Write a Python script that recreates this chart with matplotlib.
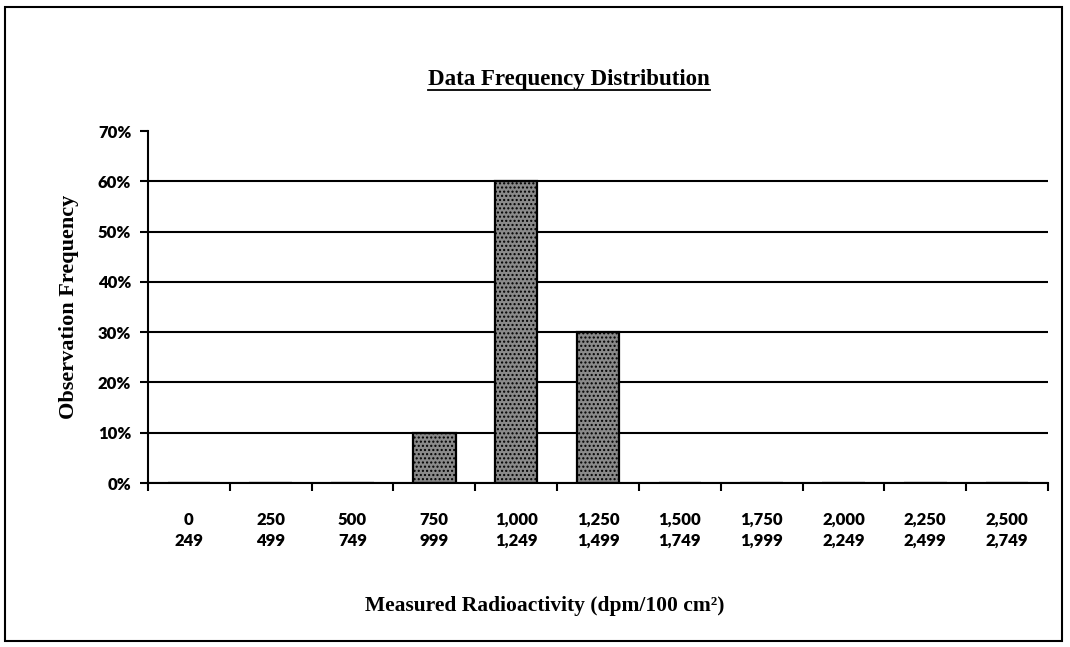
import numpy as np
import matplotlib.pyplot as plt
from matplotlib.patches import Rectangle
from matplotlib.lines import Line2D

# bin edges (lower / upper) and observed frequency in percent
bin_low = ['0', '250', '500', '750', '1,000', '1,250', '1,500', '1,750', '2,000', '2,250', '2,500']
bin_high = ['249', '499', '749', '999', '1,249', '1,499', '1,749', '1,999', '2,249', '2,499', '2,749']
freq = [0, 0, 0, 10, 60, 30, 0, 0, 0, 0, 0]

serif = 'Liberation Serif'
tickfont = 'Lato'

fig = plt.figure(figsize=(10.7, 6.47), dpi=100)
ax = fig.add_axes([148 / 1070, 1 - 483 / 647, 900 / 1070, 352 / 647])

x = np.arange(len(freq))
ax.bar(x, freq, width=0.52, color='#8a8a8a', edgecolor='black', linewidth=1.6,
       hatch='....', zorder=3)

ax.set_xlim(-0.5, len(freq) - 0.5)
ax.set_ylim(0, 70)
ax.set_yticks(range(0, 71, 10))
ax.set_yticklabels([f'{v}%' for v in range(0, 71, 10)], fontfamily=tickfont,
                   fontweight='heavy', fontsize=12)
ax.yaxis.grid(True, color='black', linewidth=1.5, zorder=0)
ax.yaxis.get_gridlines()[-1].set_visible(False)  # no line at 70%
ax.set_axisbelow(True)

# ticks on bin boundaries, labels in the middle
ax.set_xticks(np.arange(-0.5, len(freq) + 0.5, 1.0))
ax.set_xticklabels([])
ax.set_xticks(x, minor=True)
ax.set_xticklabels([f'{a}\n{b}' for a, b in zip(bin_low, bin_high)], minor=True,
                   fontfamily=tickfont, fontweight='heavy', fontsize=12,
                   linespacing=1.35)
ax.tick_params(axis='x', which='minor', length=0, pad=21)
ax.tick_params(axis='x', which='major', length=6, width=1.5, direction='out')
ax.tick_params(axis='y', length=6, width=1.5, direction='out', pad=6)

for s in ['top', 'right']:
    ax.spines[s].set_visible(False)
for s in ['left', 'bottom']:
    ax.spines[s].set_linewidth(1.5)
    ax.spines[s].set_zorder(4)

ax.set_ylabel('Observation Frequency', fontfamily=serif, fontweight='bold',
              fontsize=16, labelpad=14)
fig.text(545 / 1070, 1 - 606 / 647, 'Measured Radioactivity (dpm/100 cm²)',
         ha='center', va='center', fontfamily=serif, fontweight='bold', fontsize=15.5)

title = fig.text(569 / 1070, 1 - 79 / 647, 'Data Frequency Distribution',
                 ha='center', va='center', fontfamily=serif, fontweight='bold',
                 fontsize=16.5)

# underline the title
fig.canvas.draw()
bb = title.get_window_extent().transformed(fig.transFigure.inverted())
fig.add_artist(Line2D([bb.x0, bb.x1], [bb.y0 - 0.001, bb.y0 - 0.001],
                      transform=fig.transFigure, color='black', linewidth=1.3))

# outer frame
fig.add_artist(Rectangle((5 / 1070, 6 / 647), 1057 / 1070, 634 / 647,
                         transform=fig.transFigure, fill=False,
                         edgecolor='black', linewidth=1.5))

fig.savefig('out.png', dpi=100)
